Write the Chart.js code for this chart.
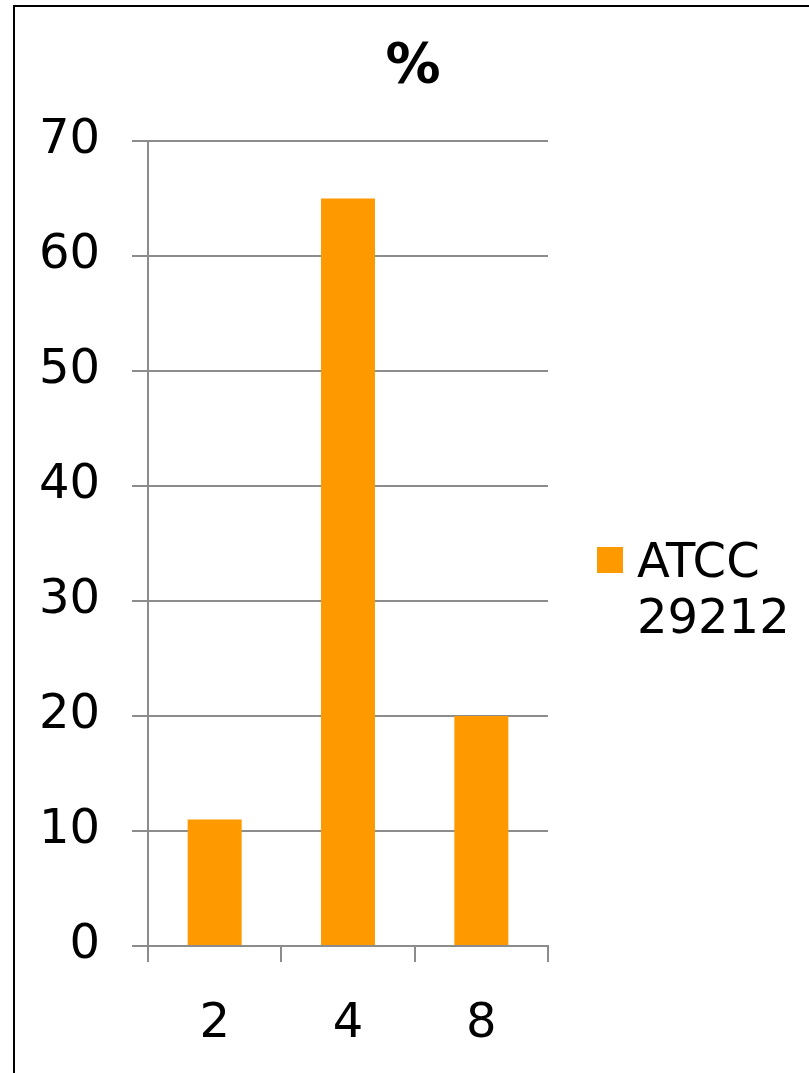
<!DOCTYPE html>
<html>
<head>
<meta charset="utf-8">
<script src="https://cdn.jsdelivr.net/npm/chart.js@4/dist/chart.umd.min.js"></script>
<style>
  html, body { margin: 0; padding: 0; background: #fff; overflow: hidden; }
  #wrap { position: relative; width: 809px; height: 1073px; }
  #frame { position: absolute; left: 13px; top: 5px; width: 900px; height: 1200px;
           border-left: 2px solid #000; border-top: 2px solid #000; box-sizing: border-box; }
  canvas { position: absolute; left: 0; top: 0; }
</style>
</head>
<body>
<div id="wrap">
  <div id="frame"></div>
  <canvas id="c" width="809" height="1073"></canvas>
</div>
<script>
// Dilution categories and percentage of isolates for the reference strain
const categories = ['2', '4', '8'];
const seriesLabel = 'ATCC 29212';
const titleText = '%';
const percentValues = [11, 65, 20];
const yTicks = [0, 10, 20, 30, 40, 50, 60, 70];

const FONT = "'DejaVu Sans', Verdana, sans-serif";
const ORANGE = '#FF9900';
const GRID = '#8C8C8C';

// Chart title centred across the whole figure
const figureTitle = {
  id: 'figureTitle',
  afterDraw(chart) {
    const ctx = chart.ctx;
    ctx.save();
    ctx.fillStyle = '#000';
    ctx.font = 'bold 55px ' + FONT;
    ctx.textAlign = 'center';
    ctx.textBaseline = 'alphabetic';
    ctx.fillText(titleText, 413, 82);
    ctx.restore();
  }
};

// Legend drawn at the right, with the series name wrapped on two lines
const sideLegend = {
  id: 'sideLegend',
  afterDraw(chart) {
    const ctx = chart.ctx;
    const ds = chart.data.datasets[0];
    const lines = ds.label.split(' ');
    ctx.save();
    ctx.fillStyle = ds.backgroundColor;
    ctx.fillRect(597, 547, 26, 26);
    ctx.fillStyle = '#000';
    ctx.font = '48px ' + FONT;
    ctx.textAlign = 'left';
    ctx.textBaseline = 'alphabetic';
    lines.forEach((t, i) => ctx.fillText(t, 637, 577 + i * 56));
    ctx.restore();
  }
};

new Chart(document.getElementById('c'), {
  type: 'bar',
  data: {
    labels: categories,
    datasets: [{
      label: seriesLabel,
      data: percentValues,
      backgroundColor: ORANGE,
      borderWidth: 0,
      barPercentage: 1,
      categoryPercentage: 0.405
    }]
  },
  options: {
    responsive: false,
    animation: false,
    devicePixelRatio: 1,
    layout: { padding: { left: 0, right: 261, top: 141, bottom: 0 } },
    plugins: {
      legend: { display: false },
      tooltip: { enabled: false },
      title: { display: false }
    },
    scales: {
      x: {
        grid: { display: true, offset: true, drawOnChartArea: false, color: GRID, tickLength: 16, lineWidth: 2 },
        border: { display: true, color: GRID, width: 2 },
        ticks: { color: '#000', font: { family: FONT, size: 48 }, padding: 34, maxRotation: 0 },
        afterFit(scale) { scale.height = 127; }
      },
      y: {
        min: 0,
        max: 70,
        afterBuildTicks(scale) { scale.ticks = yTicks.map(v => ({ value: v })); },
        grid: { color: GRID, tickLength: 16, lineWidth: 2 },
        border: { display: true, color: GRID, width: 2 },
        ticks: { color: '#000', font: { family: FONT, size: 48 }, padding: 32 },
        afterFit(scale) { scale.width = 148; }
      }
    }
  },
  plugins: [figureTitle, sideLegend]
});
</script>
</body>
</html>
